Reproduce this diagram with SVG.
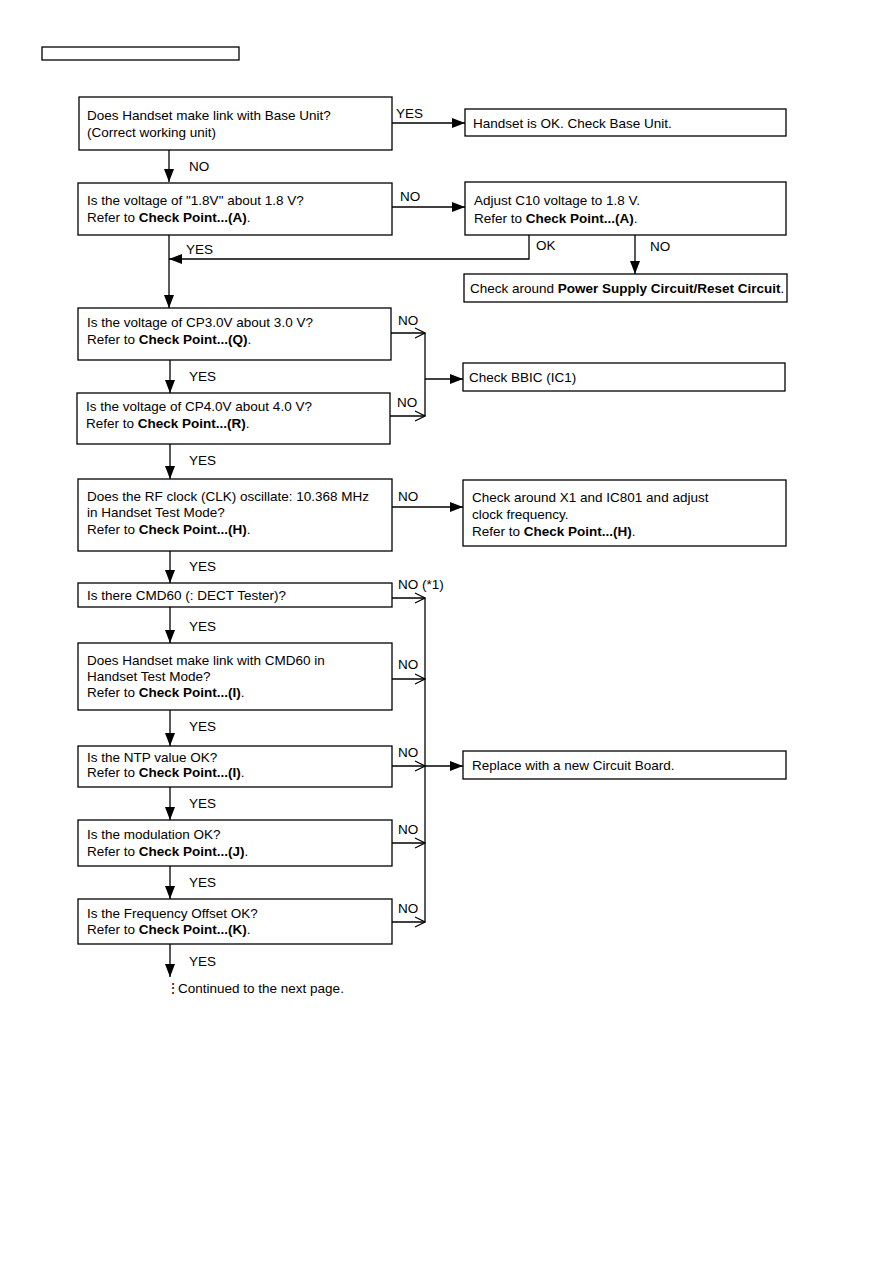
<svg xmlns="http://www.w3.org/2000/svg" width="893" height="1263" viewBox="0 0 893 1263">
<defs>
<marker id="fa" viewBox="0 0 13 10" refX="13" refY="5" markerWidth="13" markerHeight="10" markerUnits="userSpaceOnUse" orient="auto"><path d="M0,0 L13,5 L0,10 Z" fill="#000"/></marker>
<marker id="oa" viewBox="0 0 12 12" refX="11" refY="6" markerWidth="12" markerHeight="12" markerUnits="userSpaceOnUse" orient="auto"><path d="M1,1 L11,6 L1,11" fill="none" stroke="#000" stroke-width="1.2"/></marker>
<style>
text{font-family:"Liberation Sans",Arial,sans-serif;font-size:13.5px;fill:#000}
.b{font-weight:bold}
.n rect{fill:#fff;stroke:#000;stroke-width:1.3}
.c path{fill:none;stroke:#000;stroke-width:1.3}
</style>
</defs>
<g class="n" id="header"><rect x="42" y="47" width="197" height="13"/></g>

<g class="c" id="connectors">
<path d="M392,123 H465" marker-end="url(#fa)"/>
<path d="M169,150 V182" marker-end="url(#fa)"/>
<path d="M392,207 H465" marker-end="url(#fa)"/>
<path d="M169,235 V308" marker-end="url(#fa)"/>
<path d="M529,235 V259 H169" marker-end="url(#fa)"/>
<path d="M635,235 V274" marker-end="url(#fa)"/>
<path d="M391,333 H425" marker-end="url(#oa)"/>
<path d="M390,416 H425" marker-end="url(#oa)"/>
<path d="M425,333 V416"/>
<path d="M425,379 H463" marker-end="url(#fa)"/>
<path d="M170,360 V393" marker-end="url(#fa)"/>
<path d="M170,444 V479" marker-end="url(#fa)"/>
<path d="M392,507 H463" marker-end="url(#fa)"/>
<path d="M170,551 V583" marker-end="url(#fa)"/>
<path d="M392,598 H425" marker-end="url(#oa)"/>
<path d="M170,607 V643" marker-end="url(#fa)"/>
<path d="M392,679 H425" marker-end="url(#oa)"/>
<path d="M170,710 V746" marker-end="url(#fa)"/>
<path d="M392,766 H425" marker-end="url(#oa)"/>
<path d="M425,598 V922"/>
<path d="M425,766 H463" marker-end="url(#fa)"/>
<path d="M170,787 V820" marker-end="url(#fa)"/>
<path d="M392,843 H425" marker-end="url(#oa)"/>
<path d="M170,866 V899" marker-end="url(#fa)"/>
<path d="M392,922 H425" marker-end="url(#oa)"/>
<path d="M170,944 V977" marker-end="url(#fa)"/>
<text x="396" y="118">YES</text>
<text x="189" y="171">NO</text>
<text x="400" y="201">NO</text>
<text x="186" y="254">YES</text>
<text x="536" y="250">OK</text>
<text x="650" y="251">NO</text>
<text x="398" y="325">NO</text>
<text x="189" y="381">YES</text>
<text x="397" y="407">NO</text>
<text x="189" y="465">YES</text>
<text x="398" y="501">NO</text>
<text x="189" y="571">YES</text>
<text x="398" y="589">NO (*1)</text>
<text x="189" y="631">YES</text>
<text x="398" y="669">NO</text>
<text x="189" y="731">YES</text>
<text x="398" y="757">NO</text>
<text x="189" y="808">YES</text>
<text x="398" y="834">NO</text>
<text x="189" y="887">YES</text>
<text x="398" y="913">NO</text>
<text x="189" y="966">YES</text>
</g>

<g class="n" id="n1"><rect x="79" y="97" width="313" height="53"/>
<text x="87" y="120">Does Handset make link with Base Unit?</text>
<text x="87" y="137">(Correct working unit)</text></g>

<g class="n" id="n2"><rect x="465" y="109" width="321" height="27"/>
<text x="473" y="128">Handset is OK. Check Base Unit.</text></g>

<g class="n" id="n3"><rect x="78" y="183" width="314" height="52"/>
<text x="87" y="205">Is the voltage of "1.8V" about 1.8 V?</text>
<text x="87" y="222">Refer to <tspan class="b">Check Point...(A)</tspan>.</text></g>

<g class="n" id="n4"><rect x="465" y="182" width="321" height="53"/>
<text x="474" y="205">Adjust C10 voltage to 1.8 V.</text>
<text x="474" y="223">Refer to <tspan class="b">Check Point...(A)</tspan>.</text></g>

<g class="n" id="n5"><rect x="464" y="274" width="323" height="28"/>
<text x="470" y="293">Check around <tspan class="b">Power Supply Circuit/Reset Circuit</tspan>.</text></g>

<g class="n" id="n6"><rect x="78" y="308" width="313" height="52"/>
<text x="87" y="327">Is the voltage of CP3.0V about 3.0 V?</text>
<text x="87" y="344">Refer to <tspan class="b">Check Point...(Q)</tspan>.</text></g>

<g class="n" id="n7"><rect x="77" y="393" width="313" height="51"/>
<text x="86" y="411">Is the voltage of CP4.0V about 4.0 V?</text>
<text x="86" y="428">Refer to <tspan class="b">Check Point...(R)</tspan>.</text></g>

<g class="n" id="n8"><rect x="463" y="363" width="322" height="28"/>
<text x="469" y="382">Check BBIC (IC1)</text></g>

<g class="n" id="n9"><rect x="78" y="479" width="314" height="72"/>
<text x="87" y="501">Does the RF clock (CLK) oscillate: 10.368 MHz</text>
<text x="87" y="517">in Handset Test Mode?</text>
<text x="87" y="534">Refer to <tspan class="b">Check Point...(H)</tspan>.</text></g>

<g class="n" id="n10"><rect x="463" y="480" width="323" height="66"/>
<text x="472" y="502">Check around X1 and IC801 and adjust</text>
<text x="472" y="519">clock frequency.</text>
<text x="472" y="536">Refer to <tspan class="b">Check Point...(H)</tspan>.</text></g>

<g class="n" id="n11"><rect x="78" y="583" width="314" height="24"/>
<text x="87" y="600">Is there CMD60 (: DECT Tester)?</text></g>

<g class="n" id="n12"><rect x="78" y="643" width="314" height="67"/>
<text x="87" y="665">Does Handset make link with CMD60 in</text>
<text x="87" y="681">Handset Test Mode?</text>
<text x="87" y="697">Refer to <tspan class="b">Check Point...(I)</tspan>.</text></g>

<g class="n" id="n13"><rect x="78" y="746" width="314" height="41"/>
<text x="87" y="762">Is the NTP value OK?</text>
<text x="87" y="777">Refer to <tspan class="b">Check Point...(I)</tspan>.</text></g>

<g class="n" id="n14"><rect x="463" y="751" width="323" height="28"/>
<text x="472" y="770">Replace with a new Circuit Board.</text></g>

<g class="n" id="n15"><rect x="78" y="820" width="314" height="46"/>
<text x="87" y="839">Is the modulation OK?</text>
<text x="87" y="856">Refer to <tspan class="b">Check Point...(J)</tspan>.</text></g>

<g class="n" id="n16"><rect x="78" y="899" width="314" height="45"/>
<text x="87" y="918">Is the Frequency Offset OK?</text>
<text x="87" y="934">Refer to <tspan class="b">Check Point...(K)</tspan>.</text></g>

<g id="n17"><text x="166" y="993">⋮<tspan x="178">Continued to the next page.</tspan></text></g>
</svg>
